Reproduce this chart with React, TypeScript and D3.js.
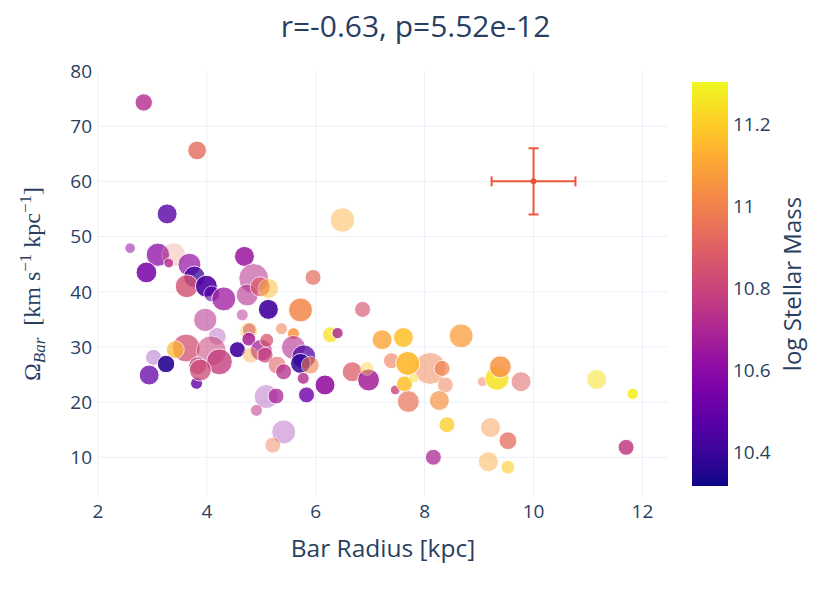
import { useEffect, useRef } from "react";
import * as d3 from "d3";

// bar radius [kpc]
const barRadius = [
  2.84, 3.82, 3.27, 6.49, 2.59, 3.1, 2.89, 3.39, 3.3, 3.68, 3.77, 3.63, 3.99, 4.09,
  4.31, 4.69, 4.86, 4.74, 4.98, 5.13, 3.97, 4.65, 5.13, 5.72, 5.95, 5.37, 5.59, 6.27,
  6.4, 4.77, 4.78, 4.19, 4.56, 4.77, 5.0, 5.1, 5.07, 4.8, 5.59, 5.78, 5.72, 5.77,
  5.83, 6.17, 6.67, 5.29, 5.41, 5.09, 5.27, 4.91, 5.41, 5.21, 3.81, 3.62, 3.42, 4.08,
  4.23, 3.83, 3.88, 3.02, 3.25, 2.94, 5.9, 6.86, 7.22, 7.61, 8.67, 7.39, 8.1, 7.69,
  8.32, 8.38, 6.97, 6.94, 7.46, 7.63, 7.8, 7.7, 8.27, 8.41, 8.16, 9.21, 9.53, 9.17,
  9.53, 9.06, 9.33, 9.39, 9.77, 11.16, 11.82, 11.7,
];

// pattern speed [km s^-1 kpc^-1]
const omegaBar = [
  74.3, 65.6, 54.1, 53.0, 47.9, 46.7, 43.5, 46.7, 45.2, 44.9, 42.7, 41.0, 41.0, 39.6,
  38.7, 46.4, 42.4, 39.4, 40.9, 40.6, 34.9, 35.8, 36.8, 36.7, 42.6, 33.3, 32.4, 32.2,
  32.5, 32.9, 33.1, 31.9, 29.5, 31.4, 29.4, 31.2, 28.5, 28.5, 29.9, 28.2, 27.0, 24.3,
  21.3, 23.1, 25.5, 26.7, 25.5, 21.0, 21.1, 18.5, 14.6, 12.2, 23.4, 29.8, 29.5, 29.3,
  27.3, 26.6, 25.8, 28.1, 26.9, 24.9, 26.7, 36.8, 31.3, 31.7, 32.0, 27.5, 26.1, 27.0,
  26.1, 23.1, 24.0, 26.1, 22.2, 23.3, 24.3, 20.1, 20.3, 15.9, 10.0, 15.4, 13.0, 9.2,
  8.2, 23.7, 24.3, 26.4, 23.7, 24.1, 21.5, 11.8,
];

// log stellar mass
const logMass = [
  10.72, 10.93, 10.47, 11.12, 10.62, 10.6, 10.55, 10.95, 10.72, 10.62, 10.4, 10.84,
  10.45, 10.47, 10.65, 10.64, 10.72, 10.72, 10.88, 11.15, 10.72, 10.72, 10.42, 11.02,
  10.93, 10.98, 11.05, 11.25, 10.72, 11.2, 10.85, 10.6, 10.42, 10.68, 10.68, 10.86,
  10.8, 11.1, 10.72, 10.45, 10.38, 10.72, 10.52, 10.63, 10.88, 10.9, 10.72, 10.6,
  10.68, 10.75, 10.6, 10.98, 10.5, 10.84, 11.15, 10.8, 10.78, 10.78, 10.82, 10.55,
  10.36, 10.5, 11.0, 10.85, 11.1, 11.17, 11.08, 10.98, 11.0, 11.15, 11.0, 10.98,
  10.67, 11.2, 10.8, 11.17, 11.25, 10.95, 11.05, 11.2, 10.7, 11.05, 10.93, 11.1,
  11.2, 10.98, 11.25, 11.05, 10.9, 11.25, 11.28, 10.77,
];

// marker size variable
const sizeVar = [
  19, 22, 25, 38, 7, 34, 27, 36, 6, 33, 29, 33, 30, 16, 36, 25, 56, 30, 25, 25, 34, 9,
  25, 36, 16, 9, 9, 16, 8, 20, 12, 20, 16, 12, 30, 12, 16, 16, 36, 36, 25, 9, 16, 25,
  25, 20, 16, 36, 16, 9, 36, 16, 9, 49, 20, 56, 42, 20, 30, 16, 19, 25, 20, 16, 25, 25,
  36, 16, 64, 36, 16, 16, 30, 12, 6, 16, 6, 30, 25, 16, 16, 25, 20, 25, 12, 6, 36, 30,
  25, 25, 8, 16,
];

// marker opacity variable
const alphaVar = [
  0.8, 0.8, 0.8, 0.45, 0.55, 0.75, 0.85, 0.25, 0.8, 0.7, 0.75, 0.8, 0.9, 0.6, 0.75,
  0.85, 0.55, 0.6, 0.7, 0.5, 0.55, 0.5, 0.9, 0.85, 0.7, 0.55, 0.85, 0.75, 0.85, 0.5,
  0.55, 0.3, 0.9, 0.85, 0.75, 0.75, 0.7, 0.4, 0.6, 0.75, 0.85, 0.8, 0.8, 0.9, 0.75,
  0.6, 0.75, 0.3, 0.75, 0.55, 0.3, 0.45, 0.8, 0.75, 0.7, 0.55, 0.8, 0.7, 0.75, 0.3,
  0.9, 0.75, 0.6, 0.65, 0.8, 0.85, 0.75, 0.6, 0.5, 0.9, 0.7, 0.5, 0.85, 0.4, 0.8,
  0.85, 0.5, 0.7, 0.7, 0.75, 0.75, 0.45, 0.75, 0.45, 0.6, 0.5, 0.85, 0.85, 0.55, 0.55,
  0.9, 0.85,
];

// typical uncertainty marker
const errPoint = { x: 10, y: 60, dx: 0.77, dy: 6 };

const xTicks = [2, 4, 6, 8, 10, 12];
const yTicks = [10, 20, 30, 40, 50, 60, 70, 80];
const cbTicks = [10.4, 10.6, 10.8, 11, 11.2];
const title = "r=-0.63, p=5.52e-12";

const W = 831;
const H = 593;
const font = '"Open Sans", verdana, arial, sans-serif';
const textColor = "#2a3f5f";

const App = () => {
  const ref = useRef<SVGSVGElement | null>(null);

  useEffect(() => {
    const margin = { top: 71, right: 163, bottom: 96, left: 98 };
    const svg = d3.select(ref.current);
    svg.selectAll("*").remove();

    const x = d3.scaleLinear().domain([2, 12.47]).range([margin.left, W - margin.right]);
    const y = d3.scaleLinear().domain([2.8, 80]).range([H - margin.bottom, margin.top]);
    const cDomain: [number, number] = [10.317, 11.303];
    const color = d3.scaleSequential(d3.interpolatePlasma).domain(cDomain);
    const r = d3.scaleSqrt().domain([0, 64]).range([0, 16]);

    // grid
    const grid = svg.append("g").attr("stroke", "#ebf0f8").attr("stroke-width", 1);
    grid
      .selectAll("line.gx")
      .data(xTicks)
      .join("line")
      .attr("x1", (d) => x(d))
      .attr("x2", (d) => x(d))
      .attr("y1", margin.top)
      .attr("y2", H - margin.bottom);
    grid
      .selectAll("line.gy")
      .data(yTicks.filter((d) => d < 80))
      .join("line")
      .attr("x1", margin.left)
      .attr("x2", W - margin.right)
      .attr("y1", (d) => y(d))
      .attr("y2", (d) => y(d));

    // tick labels
    svg
      .append("g")
      .selectAll("text")
      .data(xTicks)
      .join("text")
      .attr("x", (d) => x(d))
      .attr("y", H - margin.bottom + 21)
      .attr("text-anchor", "middle")
      .attr("font-family", font)
      .attr("font-size", 19)
      .attr("fill", textColor)
      .text((d) => d);
    svg
      .append("g")
      .selectAll("text")
      .data(yTicks)
      .join("text")
      .attr("x", margin.left - 6)
      .attr("y", (d) => y(d))
      .attr("dy", "0.36em")
      .attr("text-anchor", "end")
      .attr("font-family", font)
      .attr("font-size", 19)
      .attr("fill", textColor)
      .text((d) => d);

    // points
    const pts = barRadius.map((xv, i) => ({
      x: xv,
      y: omegaBar[i],
      m: logMass[i],
      s: sizeVar[i],
      a: alphaVar[i],
    }));
    svg
      .append("g")
      .selectAll("circle")
      .data(pts)
      .join("circle")
      .attr("cx", (d) => x(d.x))
      .attr("cy", (d) => y(d.y))
      .attr("r", (d) => r(d.s))
      .attr("fill", (d) => color(d.m))
      .attr("stroke", "white")
      .attr("stroke-width", 1)
      .attr("opacity", (d) => d.a);

    // error bar
    const red = "#EF553B";
    const eb = svg.append("g").attr("stroke", red).attr("stroke-width", 2);
    const ex = x(errPoint.x);
    const ey = y(errPoint.y);
    const x0 = x(errPoint.x - errPoint.dx);
    const x1 = x(errPoint.x + errPoint.dx);
    const y0 = y(errPoint.y - errPoint.dy);
    const y1 = y(errPoint.y + errPoint.dy);
    eb.append("line").attr("x1", x0).attr("x2", x1).attr("y1", ey).attr("y2", ey);
    eb.append("line").attr("x1", ex).attr("x2", ex).attr("y1", y0).attr("y2", y1);
    eb.append("line").attr("x1", x0).attr("x2", x0).attr("y1", ey - 5).attr("y2", ey + 5);
    eb.append("line").attr("x1", x1).attr("x2", x1).attr("y1", ey - 5).attr("y2", ey + 5);
    eb.append("line").attr("x1", ex - 5).attr("x2", ex + 5).attr("y1", y0).attr("y2", y0);
    eb.append("line").attr("x1", ex - 5).attr("x2", ex + 5).attr("y1", y1).attr("y2", y1);
    svg.append("circle").attr("cx", ex).attr("cy", ey).attr("r", 3).attr("fill", red);

    // colorbar
    const cb = { x: 692, w: 36, top: 82, bottom: 486 };
    const cbScale = d3.scaleLinear().domain(cDomain).range([cb.bottom, cb.top]);
    const grad = svg
      .append("defs")
      .append("linearGradient")
      .attr("id", "plasma")
      .attr("x1", 0)
      .attr("x2", 0)
      .attr("y1", 1)
      .attr("y2", 0);
    d3.range(0, 1.0001, 0.05).forEach((t) => {
      grad
        .append("stop")
        .attr("offset", t)
        .attr("stop-color", d3.interpolatePlasma(t));
    });
    svg
      .append("rect")
      .attr("x", cb.x)
      .attr("y", cb.top)
      .attr("width", cb.w)
      .attr("height", cb.bottom - cb.top)
      .attr("fill", "url(#plasma)");
    svg
      .append("g")
      .selectAll("text")
      .data(cbTicks)
      .join("text")
      .attr("x", cb.x + cb.w + 5)
      .attr("y", (d) => cbScale(d))
      .attr("dy", "0.36em")
      .attr("font-family", font)
      .attr("font-size", 19)
      .attr("fill", textColor)
      .text((d) => d3.format("~g")(d));
    svg
      .append("text")
      .attr("transform", `translate(793,${(cb.top + cb.bottom) / 2}) rotate(-90)`)
      .attr("text-anchor", "middle")
      .attr("dy", "0.35em")
      .attr("font-family", font)
      .attr("font-size", 24)
      .attr("fill", textColor)
      .text("log Stellar Mass");

    // titles
    svg
      .append("text")
      .attr("x", W / 2)
      .attr("y", 36.5)
      .attr("text-anchor", "middle")
      .attr("font-family", font)
      .attr("font-size", 30)
      .attr("fill", textColor)
      .text(title);
    svg
      .append("text")
      .attr("x", (margin.left + W - margin.right) / 2)
      .attr("y", 556.5)
      .attr("text-anchor", "middle")
      .attr("font-family", font)
      .attr("font-size", 24.5)
      .attr("fill", textColor)
      .text("Bar Radius [kpc]");

    // y title, math style
    const yt = svg
      .append("text")
      .attr("transform", `translate(40,${(margin.top + H - margin.bottom) / 2}) rotate(-90)`)
      .attr("text-anchor", "middle")
      .attr("font-family", '"Liberation Serif", "DejaVu Serif", serif')
      .attr("font-size", 24)
      .attr("fill", textColor);
    yt.append("tspan").text("Ω");
    yt.append("tspan").attr("font-size", 17).attr("font-style", "italic").attr("dy", 5).text("Bar");
    yt.append("tspan").attr("dy", -5).text("\u2002[km s");
    yt.append("tspan").attr("font-size", 17).attr("dy", -9).text("−1");
    yt.append("tspan").attr("dy", 9).text(" kpc");
    yt.append("tspan").attr("font-size", 17).attr("dy", -9).text("−1");
    yt.append("tspan").attr("dy", 9).text("]");
  }, []);

  return (
    <svg
      ref={ref}
      width={W}
      height={H}
      style={{ position: "absolute", left: 0, top: 0, background: "white" }}
    ></svg>
  );
};

export default App;
